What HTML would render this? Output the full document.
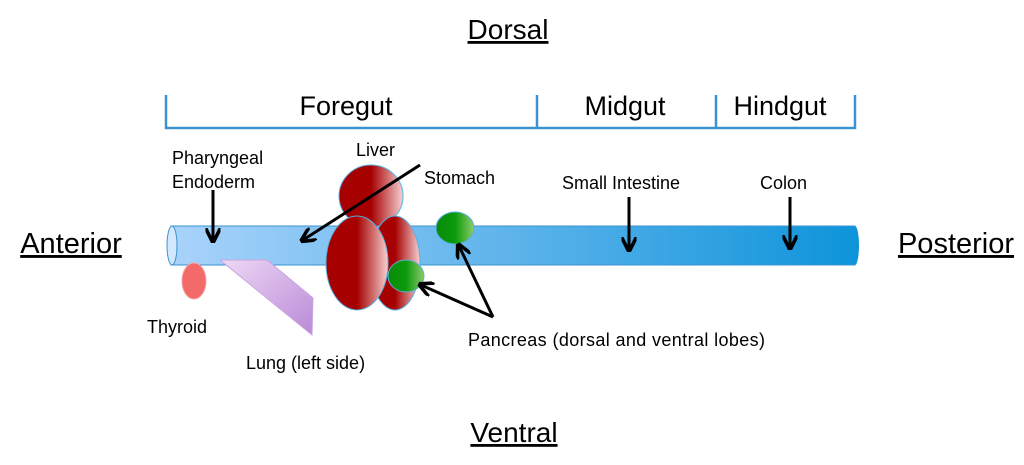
<!DOCTYPE html>
<html><head><style>
body{margin:0;background:#fff}
svg text{font-family:"Liberation Sans",sans-serif;fill:#000}
</style></head><body>
<svg width="1024" height="460" viewBox="0 0 1024 460" xmlns="http://www.w3.org/2000/svg">
<defs>
<linearGradient id="tube" x1="0" x2="1" y1="0" y2="0">
<stop offset="0" stop-color="#a9d3fb"/><stop offset="1" stop-color="#0f94da"/>
</linearGradient>
<linearGradient id="red" x1="0" x2="1" y1="0" y2="0">
<stop offset="0" stop-color="#a60000"/><stop offset="0.5" stop-color="#a60000"/><stop offset="1" stop-color="#f6d0d0"/>
</linearGradient>
<linearGradient id="grn" x1="0" x2="1" y1="0" y2="0">
<stop offset="0" stop-color="#0a8a0a"/><stop offset="0.5" stop-color="#0a9a0a"/><stop offset="1" stop-color="#8ccc6c"/>
</linearGradient>
<linearGradient id="lung" x1="0" x2="1" y1="0" y2="1">
<stop offset="0" stop-color="#eed8f6"/><stop offset="1" stop-color="#b98ad6"/>
</linearGradient>
<marker id="ah" viewBox="0 0 10 10" refX="8" refY="5" markerWidth="5" markerHeight="5" orient="auto"><path d="M0,0 L10,5 L0,10" fill="none" stroke="#000" stroke-width="2.4"/></marker>
</defs>
<text x="508" y="39" font-size="28" text-anchor="middle" text-decoration="underline">Dorsal</text>
<text x="514" y="442" font-size="28" text-anchor="middle" text-decoration="underline">Ventral</text>
<text x="71" y="253" font-size="29" text-anchor="middle" text-decoration="underline">Anterior</text>
<text x="956" y="253" font-size="29" text-anchor="middle" text-decoration="underline">Posterior</text>
<g stroke="#3a93d0" stroke-width="2.5" fill="none">
<path d="M166,95 V128 H855 V95"/><path d="M537,95 V128"/><path d="M716,95 V128"/>
</g>
<text x="346" y="115" font-size="27" text-anchor="middle">Foregut</text>
<text x="625" y="115" font-size="27" text-anchor="middle">Midgut</text>
<text x="780" y="115" font-size="27" text-anchor="middle">Hindgut</text>
<rect x="171" y="226" width="684" height="39" fill="url(#tube)" stroke="#3a93d0" stroke-width="1"/>
<ellipse cx="855" cy="245.5" rx="4" ry="19.5" fill="#0f94da"/>
<ellipse cx="172" cy="245.5" rx="5" ry="19.5" fill="#d2e9fd" stroke="#3a93d0"/>
<ellipse cx="194" cy="281" rx="12" ry="18" fill="#f26a6a" stroke="#f6a0a0"/>
<polygon points="220,260 267,260 313,298 312,335" fill="url(#lung)" stroke="#c9a6e0"/>
<ellipse cx="371" cy="196" rx="32" ry="31" fill="url(#red)" stroke="#5ab0e0"/>
<ellipse cx="395" cy="263" rx="25" ry="47" fill="url(#red)" stroke="#5ab0e0"/>
<ellipse cx="357" cy="263" rx="31" ry="47" fill="url(#red)" stroke="#5ab0e0"/>
<ellipse cx="406" cy="276" rx="18" ry="16" fill="url(#grn)" stroke="#5ab0e0"/>
<ellipse cx="455" cy="228" rx="19" ry="16" fill="url(#grn)" stroke="#5ab0e0"/>
<g stroke="#000" stroke-width="3" fill="none" marker-end="url(#ah)">
<line x1="213" y1="190" x2="213" y2="240"/>
<line x1="420" y1="165" x2="303" y2="240"/>
<line x1="493" y1="317" x2="459" y2="246"/>
<line x1="493" y1="317" x2="421" y2="285"/>
<line x1="629" y1="197" x2="629" y2="249"/>
<line x1="790" y1="197" x2="790" y2="247"/>
</g>
<g font-size="18">
<text x="172" y="164">Pharyngeal</text>
<text x="172" y="188">Endoderm</text>
<text x="356" y="156">Liver</text>
<text x="424" y="184">Stomach</text>
<text x="562" y="189">Small Intestine</text>
<text x="760" y="189">Colon</text>
<text x="147" y="333">Thyroid</text>
<text x="246" y="369">Lung (left side)</text>
<text x="468" y="346" textLength="297">Pancreas (dorsal and ventral lobes)</text>
</g>
</svg>
</body></html>
